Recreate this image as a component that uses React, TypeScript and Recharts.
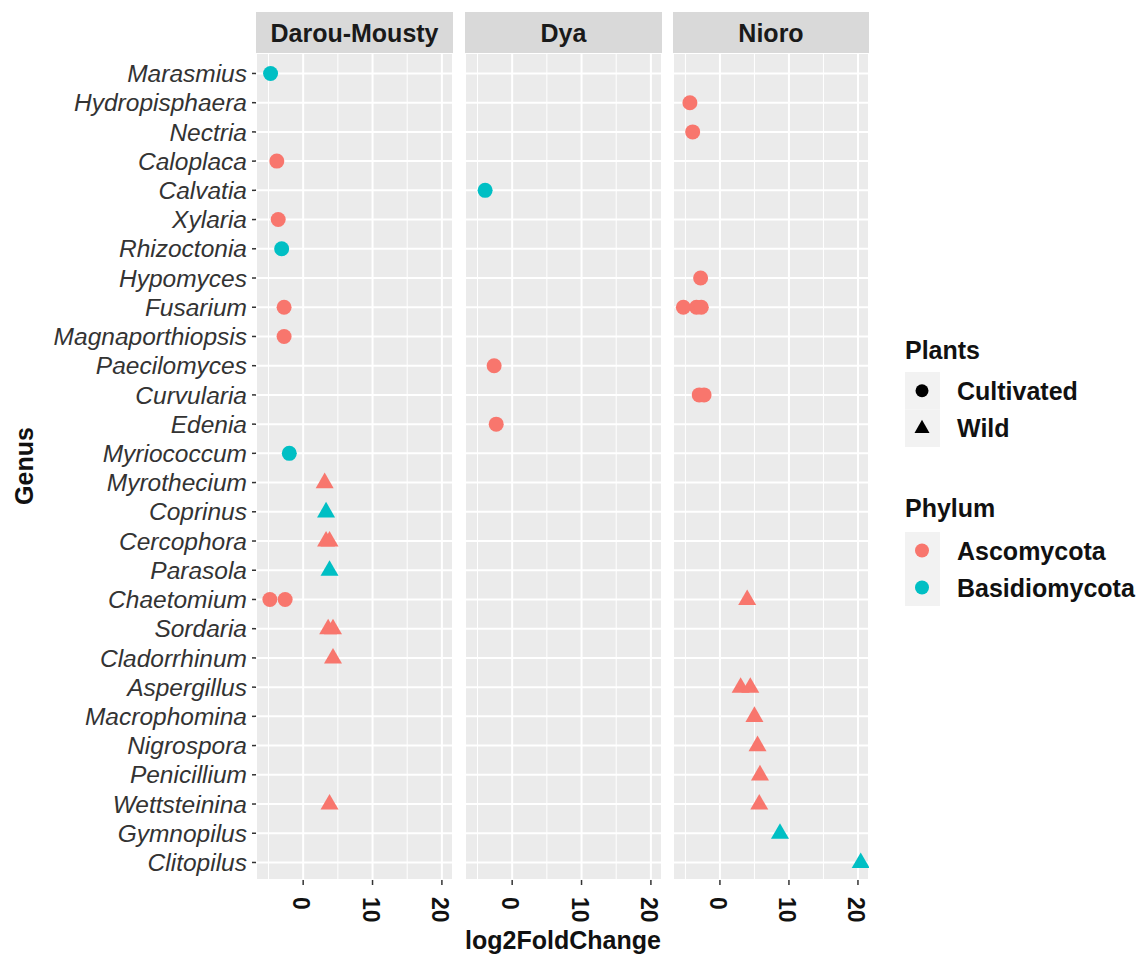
import React from 'react';
import { ScatterChart, Scatter, XAxis, YAxis, CartesianGrid, ReferenceLine } from 'recharts';

const FONT = '"Liberation Sans", Arial, Helvetica, sans-serif';

// ---- data ----
const genera = [
  'Marasmius', 'Hydropisphaera', 'Nectria', 'Caloplaca', 'Calvatia', 'Xylaria', 'Rhizoctonia',
  'Hypomyces', 'Fusarium', 'Magnaporthiopsis', 'Paecilomyces', 'Curvularia', 'Edenia',
  'Myriococcum', 'Myrothecium', 'Coprinus', 'Cercophora', 'Parasola', 'Chaetomium', 'Sordaria',
  'Cladorrhinum', 'Aspergillus', 'Macrophomina', 'Nigrospora', 'Penicillium', 'Wettsteinina',
  'Gymnopilus', 'Clitopilus',
];
const xTicks = [0, 10, 20];
const minorBreaks = [-5, 5, 15];
const sites = ['Darou-Mousty', 'Dya', 'Nioro'];
const plantTypes = ['Cultivated', 'Wild'];
const phyla = ['Ascomycota', 'Basidiomycota'];
const phylumColors = ['#F8766D', '#00BFC4'];

type Pt = [string, number, string, string];

const darouMousty: Pt[] = [
  ['Marasmius', -4.7, 'Cultivated', 'Basidiomycota'],
  ['Caloplaca', -3.8, 'Cultivated', 'Ascomycota'],
  ['Xylaria', -3.6, 'Cultivated', 'Ascomycota'],
  ['Rhizoctonia', -3.1, 'Cultivated', 'Basidiomycota'],
  ['Fusarium', -2.75, 'Cultivated', 'Ascomycota'],
  ['Magnaporthiopsis', -2.75, 'Cultivated', 'Ascomycota'],
  ['Myriococcum', -2.0, 'Cultivated', 'Basidiomycota'],
  ['Myrothecium', 3.1, 'Wild', 'Ascomycota'],
  ['Coprinus', 3.3, 'Wild', 'Basidiomycota'],
  ['Cercophora', 3.3, 'Wild', 'Ascomycota'],
  ['Cercophora', 3.8, 'Wild', 'Ascomycota'],
  ['Parasola', 3.8, 'Wild', 'Basidiomycota'],
  ['Chaetomium', -4.8, 'Cultivated', 'Ascomycota'],
  ['Chaetomium', -2.6, 'Cultivated', 'Ascomycota'],
  ['Sordaria', 3.6, 'Wild', 'Ascomycota'],
  ['Sordaria', 4.3, 'Wild', 'Ascomycota'],
  ['Cladorrhinum', 4.3, 'Wild', 'Ascomycota'],
  ['Wettsteinina', 3.8, 'Wild', 'Ascomycota'],
];

const dya: Pt[] = [
  ['Calvatia', -3.9, 'Cultivated', 'Basidiomycota'],
  ['Paecilomyces', -2.6, 'Cultivated', 'Ascomycota'],
  ['Edenia', -2.3, 'Cultivated', 'Ascomycota'],
];

const nioro: Pt[] = [
  ['Hydropisphaera', -4.35, 'Cultivated', 'Ascomycota'],
  ['Nectria', -3.95, 'Cultivated', 'Ascomycota'],
  ['Hypomyces', -2.8, 'Cultivated', 'Ascomycota'],
  ['Fusarium', -5.3, 'Cultivated', 'Ascomycota'],
  ['Fusarium', -3.4, 'Cultivated', 'Ascomycota'],
  ['Fusarium', -2.7, 'Cultivated', 'Ascomycota'],
  ['Curvularia', -3.0, 'Cultivated', 'Ascomycota'],
  ['Curvularia', -2.3, 'Cultivated', 'Ascomycota'],
  ['Chaetomium', 3.95, 'Wild', 'Ascomycota'],
  ['Aspergillus', 3.0, 'Wild', 'Ascomycota'],
  ['Aspergillus', 4.4, 'Wild', 'Ascomycota'],
  ['Macrophomina', 5.0, 'Wild', 'Ascomycota'],
  ['Nigrospora', 5.45, 'Wild', 'Ascomycota'],
  ['Penicillium', 5.8, 'Wild', 'Ascomycota'],
  ['Wettsteinina', 5.7, 'Wild', 'Ascomycota'],
  ['Gymnopilus', 8.7, 'Wild', 'Basidiomycota'],
  ['Clitopilus', 20.4, 'Wild', 'Basidiomycota'],
];

const siteData = [darouMousty, dya, nioro];

// ---- layout ----
const CHART_H = 954;
const PLOT_TOP = 53;
const PLOT_BOTTOM = 880;
const X_DOMAIN: [number, number] = [-6.8, 21.6];
const Y_DOMAIN: [number, number] = [-0.7, 27.6];
const panelLefts = [256, 465, 673];
const panelWidths = [197, 197, 196];
const rowTicks = genera.map((_, i) => i);

const circleShape = (color: string) => (props: any) =>
  <circle cx={props.cx} cy={props.cy} r={7.5} fill={color} />;

const triangleShape = (color: string) => (props: any) => {
  const { cx, cy } = props;
  return <path d={`M${cx},${cy - 10}L${cx + 9},${cy + 5.6}L${cx - 9},${cy + 5.6}Z`} fill={color} />;
};

const RotTick = (props: any) => {
  const { x, y, payload } = props;
  return (
    <text
      transform={`translate(${x},${y}) rotate(90)`}
      x={0}
      y={0}
      dy={2}
      textAnchor="start"
      dominantBaseline="central"
      fontFamily={FONT}
      fontWeight="bold"
      fontSize={23}
      fill="#111"
    >
      {payload.value}
    </text>
  );
};

function Panel({ idx }: { idx: number }) {
  const showY = idx === 0;
  const left = panelLefts[idx];
  const width = panelWidths[idx];
  const chartLeft = showY ? 0 : left;
  const chartW = showY ? left + width : width;
  const pts = siteData[idx];
  const groups: { key: string; data: any[]; shape: any }[] = [];
  plantTypes.forEach((plant) => {
    phyla.forEach((ph, pi) => {
      const data = pts
        .filter((p) => p[2] === plant && p[3] === ph)
        .map((p) => ({ x: p[1], y: genera.indexOf(p[0]), genus: p[0] }));
      const color = phylumColors[pi];
      groups.push({
        key: plant + ph,
        data,
        shape: plant === 'Cultivated' ? circleShape(color) : triangleShape(color),
      });
    });
  });
  return (
    <div style={{ position: 'absolute', left: chartLeft, top: 0 }}>
      <ScatterChart width={chartW} height={CHART_H} margin={{ top: PLOT_TOP, right: 0, bottom: 0, left: 0 }}>
        <CartesianGrid fill="#EBEBEB" stroke="#FFFFFF" strokeWidth={2} />
        <XAxis
          type="number"
          dataKey="x"
          domain={X_DOMAIN}
          ticks={xTicks}
          interval={0}
          allowDataOverflow
          axisLine={false}
          tickLine={{ stroke: '#333', strokeWidth: 1.5 }}
          tickSize={5}
          tickMargin={12}
          height={CHART_H - PLOT_BOTTOM}
          tick={<RotTick />}
        />
        <YAxis
          type="number"
          dataKey="y"
          domain={Y_DOMAIN}
          reversed
          ticks={rowTicks}
          interval={0}
          allowDataOverflow
          hide={!showY}
          width={showY ? left : 0}
          axisLine={false}
          tickLine={{ stroke: '#333', strokeWidth: 1.5 }}
          tickSize={4}
          tickMargin={5}
          tickFormatter={(i: number) => genera[i]}
          tick={{ fontFamily: FONT, fontStyle: 'italic', fontSize: 24.5, fill: '#333' }}
        />
        {minorBreaks.map((v) => (
          <ReferenceLine key={v} x={v} stroke="#FFFFFF" strokeWidth={1} ifOverflow="hidden" />
        ))}
        {groups.map((g) => (
          <Scatter key={g.key} data={g.data} shape={g.shape} isAnimationActive={false} />
        ))}
      </ScatterChart>
    </div>
  );
}

export default function App() {
  return (
    <div style={{ position: 'absolute', left: 0, top: 0, width: 1141, height: 954, background: '#fff', fontFamily: FONT }}>
      {sites.map((_, i) => <Panel key={i} idx={i} />)}
      <svg width={1141} height={954} style={{ position: 'absolute', left: 0, top: 0, pointerEvents: 'none' }}>
        {sites.map((s, i) => (
          <g key={s}>
            <rect x={panelLefts[i]} y={12} width={panelWidths[i]} height={41} fill="#D9D9D9" />
            <text
              x={panelLefts[i] + panelWidths[i] / 2}
              y={33}
              textAnchor="middle"
              dominantBaseline="central"
              fontFamily={FONT}
              fontWeight="bold"
              fontSize={25}
              fill="#1A1A1A"
            >
              {s}
            </text>
          </g>
        ))}
        <text
          transform="translate(24,466) rotate(-90)"
          textAnchor="middle"
          dominantBaseline="central"
          fontFamily={FONT}
          fontWeight="bold"
          fontSize={25}
          fill="#111"
        >
          Genus
        </text>
        <text
          x={563}
          y={940}
          textAnchor="middle"
          dominantBaseline="central"
          fontFamily={FONT}
          fontWeight="bold"
          fontSize={25}
          fill="#111"
        >
          log2FoldChange
        </text>
        {/* Legend: Plants */}
        <text x={905} y={350} dominantBaseline="central" fontFamily={FONT} fontWeight="bold" fontSize={25} fill="#111">
          Plants
        </text>
        {plantTypes.map((p, i) => {
          const top = 372 + i * 37.5;
          const cy = top + 18.75;
          return (
            <g key={p}>
              <rect x={905} y={top} width={35} height={37.5} fill="#F2F2F2" />
              {p === 'Cultivated' ? (
                <circle cx={922} cy={cy} r={6.5} fill="#000" />
              ) : (
                <path d={`M922,${cy - 8.5}L929.5,${cy + 4.7}L914.5,${cy + 4.7}Z`} fill="#000" />
              )}
              <text x={957} y={cy} dominantBaseline="central" fontFamily={FONT} fontWeight="bold" fontSize={25} fill="#111">
                {p}
              </text>
            </g>
          );
        })}
        {/* Legend: Phylum */}
        <text x={905} y={508} dominantBaseline="central" fontFamily={FONT} fontWeight="bold" fontSize={25} fill="#111">
          Phylum
        </text>
        {phyla.map((p, i) => {
          const top = 532 + i * 37;
          const cy = top + 18.5;
          return (
            <g key={p}>
              <rect x={905} y={top} width={35} height={37} fill="#F2F2F2" />
              <circle cx={922} cy={cy} r={7} fill={phylumColors[i]} />
              <text x={957} y={cy} dominantBaseline="central" fontFamily={FONT} fontWeight="bold" fontSize={25} fill="#111">
                {p}
              </text>
            </g>
          );
        })}
      </svg>
    </div>
  );
}
